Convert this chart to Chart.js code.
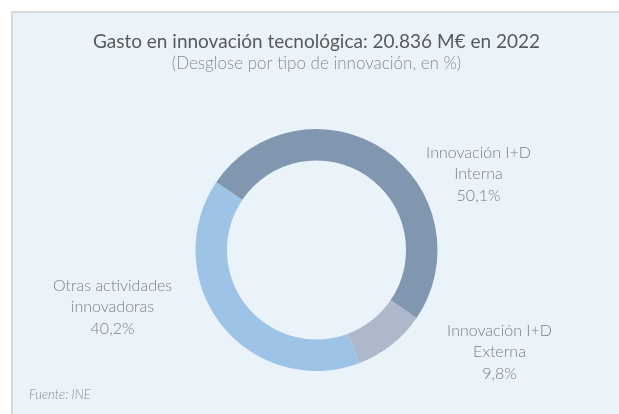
<!DOCTYPE html>
<html>
<head>
<meta charset="utf-8">
<script src="https://cdn.jsdelivr.net/npm/chart.js@4/dist/chart.umd.min.js"></script>
<style>
    html, body { margin: 0; padding: 0; background: #ffffff; }
    #box {
        position: absolute; left: 11px; top: 11px; width: 620px; height: 410px;
        background: #EAF2FA; border: 2px solid #D9D9D9;
    }
    #wrap { position: absolute; left: 0; top: 0; width: 619px; height: 414px; }
</style>
</head>
<body>
<div id="box"></div>
<div id="wrap"><canvas id="chart" width="619" height="414"></canvas></div>
<script>
// Chart data
const categories = ['Innovación I+D Interna', 'Innovación I+D Externa', 'Otras actividades innovadoras'];
const shares = [50.1, 9.8, 40.2];
const labelLines = [
    ['Innovación I+D', 'Interna'],
    ['Innovación I+D', 'Externa'],
    ['Otras actividades', 'innovadoras']
];
const colors = ['#8196AF', '#ADB9CA', '#9DC3E6'];

// where each label sits, relative to the doughnut centre (middle line)
const labelOffsets = [[162, -76], [183, 102], [-204, 57]];

const FONT = 'Lato, "Open Sans", sans-serif';

const outsideLabels = {
    id: 'outsideLabels',
    afterDatasetsDraw(chart) {
        const ctx = chart.ctx;
        const arc = chart.getDatasetMeta(0).data[0];
        ctx.save();
        ctx.fillStyle = '#7F7F7F';
        ctx.font = '300 16px ' + FONT;
        ctx.textAlign = 'center';
        ctx.textBaseline = 'middle';
        shares.forEach((v, i) => {
            const x = arc.x + labelOffsets[i][0];
            const y = arc.y + labelOffsets[i][1];
            const lines = labelLines[i].concat([v.toFixed(1).replace('.', ',') + '%']);
            lines.forEach((t, j) => ctx.fillText(t, x, y + (j - 1) * 21.5));
        });
        // source note
        ctx.font = 'italic 300 13px ' + FONT;
        ctx.textAlign = 'left';
        ctx.fillStyle = '#8C8C8C';
        ctx.fillText('Fuente: INE', 29, 395);
        ctx.restore();
    }
};

new Chart(document.getElementById('chart'), {
    type: 'doughnut',
    data: {
        labels: categories,
        datasets: [{
            data: shares,
            backgroundColor: colors,
            borderWidth: 0
        }]
    },
    options: {
        responsive: false,
        animation: false,
        rotation: -56,
        cutout: '74%',
        layout: { padding: { left: 14, right: 0, top: 0, bottom: 43 } },
        plugins: {
            legend: { display: false },
            tooltip: { enabled: false },
            title: {
                display: true,
                text: 'Gasto en innovación tecnológica: 20.836 M€ en 2022',
                color: '#595959',
                font: { family: FONT, size: 19, weight: 'normal' },
                padding: { top: 30.6, bottom: 0 }
            },
            subtitle: {
                display: true,
                text: '(Desglose por tipo de innovación, en %)',
                color: '#8C8C8C',
                font: { family: FONT, size: 17, weight: '300' },
                padding: { top: 0, bottom: 55.2 }
            }
        }
    },
    plugins: [outsideLabels]
});
</script>
</body>
</html>
